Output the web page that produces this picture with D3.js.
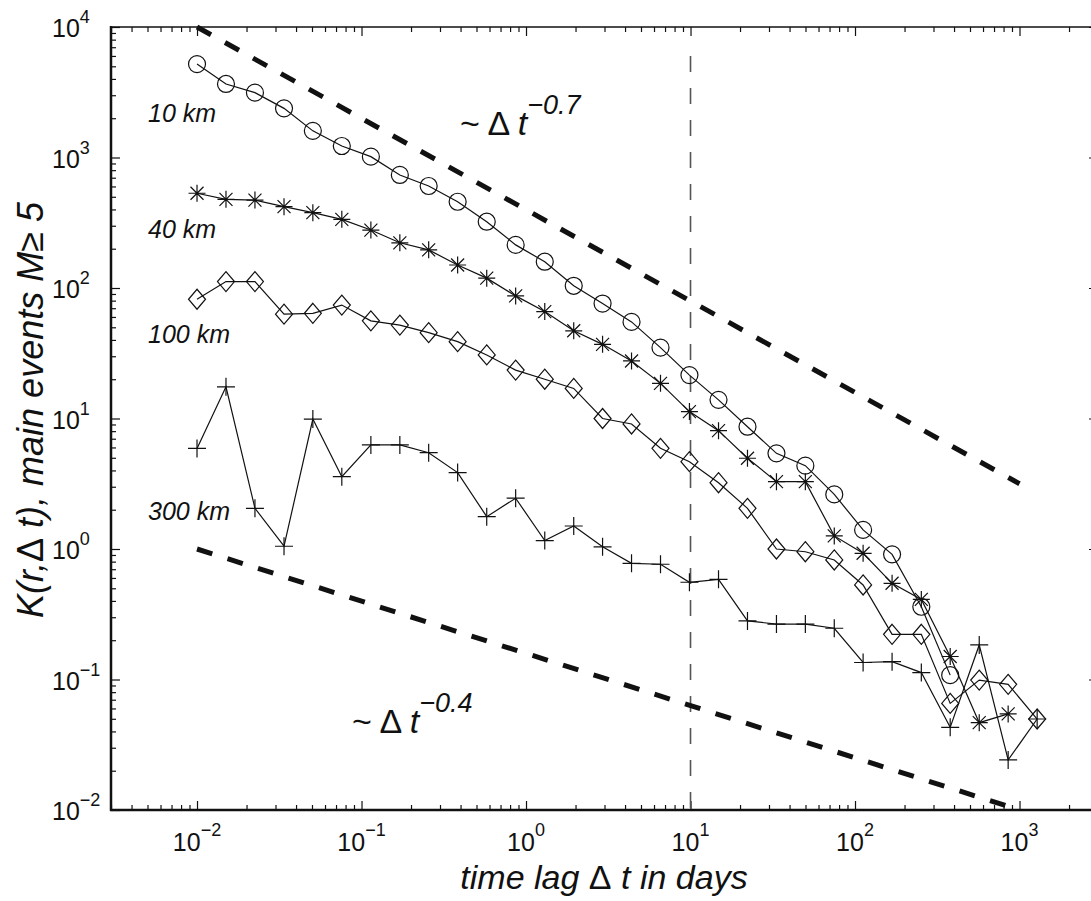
<!DOCTYPE html>
<html>
<head>
<meta charset="utf-8">
<script src="https://cdn.jsdelivr.net/npm/d3@7"></script>
<style>
  body { margin: 0; background: #fff; }
  svg { display: block; }
  text { font-family: "Liberation Sans", Arial, Helvetica, sans-serif; fill: #111; }
</style>
</head>
<body>
<svg id="chart"></svg>
<script>
// time lags (days), same grid for every curve
const lags = [0.01, 0.015, 0.0225, 0.0338, 0.0506, 0.0759, 0.114, 0.171, 0.256, 0.384,
              0.577, 0.865, 1.30, 1.95, 2.92, 4.38, 6.57, 9.85, 14.8, 22.2,
              33.3, 49.9, 74.8, 112, 168, 253, 379, 569, 853, 1280];

const k10km = [5200, 3660, 3140, 2380, 1600, 1225, 1015, 735, 605, 458,
               322, 214, 159, 104, 76, 55, 34.9, 21.5, 13.9, 8.65,
               5.41, 4.35, 2.62, 1.40, 0.91, 0.361, 0.108];
const k40km = [532, 478, 472, 420, 378, 336, 278, 222, 196, 150,
               119, 87, 66, 47, 37, 27.6, 18.6, 11.3, 8.07, 4.96,
               3.28, 3.28, 1.26, 0.927, 0.546, 0.411, 0.150, 0.0467, 0.0545];
const k100km = [82, 112, 112, 63, 64, 74, 56, 52, 45.5, 38.8,
                30.7, 23.5, 20, 17, 10, 9.08, 5.91, 4.67, 3.22, 2.05,
                1.0, 0.953, 0.824, 0.530, 0.222, 0.222, 0.0656, 0.099, 0.0918, 0.0498];
const k300km = [5.9, 17.5, 2.05, 1.05, 9.9, 3.58, 6.27, 6.27, 5.47, 3.85,
                1.77, 2.45, 1.16, 1.50, 1.04, 0.776, 0.764, 0.556, 0.586, 0.281,
                0.266, 0.266, 0.247, 0.135, 0.137, 0.113, 0.043, 0.184, 0.0242, 0.0498];

const seriesNames = ["10 km", "40 km", "100 km", "300 km"];
const seriesMarkers = ["circle", "star", "diamond", "plus"];
const seriesValues = [k10km, k40km, k100km, k300km];

// reference power laws: [start, end] in (lag, K)
const law07 = [[0.01, 1e4], [1000, Math.pow(10, 0.5)]];
const law04 = [[0.01, 1], [1000, 0.01]];
const vline = [[10, 6000], [10, 0.01]];

const xTickExps = [-2, -1, 0, 1, 2, 3];
const yTickExps = [-2, -1, 0, 1, 2, 3, 4];

const W = 1091, H = 901;
const svg = d3.select("#chart").attr("width", W).attr("height", H);

const x = d3.scaleLog().domain([0.003, 3000]).range([111, 1098]);
const y = d3.scaleLog().domain([0.01, 1e4]).range([810, 27]);

const xMinor = [], yMinor = [];
for (let e = -3; e <= 3; e++) for (let m = 2; m <= 9; m++) {
    const v = m * Math.pow(10, e);
    if (v >= 0.003 && v <= 3000) xMinor.push(v);
}
for (let e = -2; e < 4; e++) for (let m = 2; m <= 9; m++) yMinor.push(m * Math.pow(10, e));
const xMajor = xTickExps.map(e => Math.pow(10, e));
const yMajor = yTickExps.map(e => Math.pow(10, e));

function ax(gen, scale, vals, size, tx, ty) {
    const g = svg.append("g").attr("transform", `translate(${tx},${ty})`)
        .call(gen(scale).tickValues(vals).tickSizeInner(size).tickSizeOuter(0).tickFormat(""));
    g.select(".domain").remove();
    g.selectAll(".tick line").attr("stroke", "#111").attr("stroke-width", 1.2);
}
// ticks pointing inward on all four sides
ax(d3.axisBottom, x, xMajor, -9, 0, 810);
ax(d3.axisBottom, x, xMinor, -5, 0, 810);
ax(d3.axisTop, x, xMajor, -9, 0, 27);
ax(d3.axisTop, x, xMinor, -5, 0, 27);
ax(d3.axisLeft, y, yMajor, -9, 111, 0);
ax(d3.axisLeft, y, yMinor, -5, 111, 0);
ax(d3.axisRight, y, yMajor, -9, 1098, 0);
ax(d3.axisRight, y, yMinor, -5, 1098, 0);

// frame
svg.append("line").attr("x1", 111).attr("x2", 1098).attr("y1", 27).attr("y2", 27)
    .attr("stroke", "#111").attr("stroke-width", 1.5);
svg.append("line").attr("x1", 110).attr("x2", 1098).attr("y1", 810).attr("y2", 810)
    .attr("stroke", "#111").attr("stroke-width", 2.5);
svg.append("line").attr("x1", 111).attr("x2", 111).attr("y1", 26).attr("y2", 811)
    .attr("stroke", "#111").attr("stroke-width", 2.5);

// tick labels
svg.selectAll(".xlab").data(xTickExps).enter().append("text")
    .attr("class", "xlab")
    .attr("x", e => x(Math.pow(10, e)))
    .attr("y", 851)
    .attr("text-anchor", "middle")
    .style("font-size", "25px")
    .each(function (e) {
        const t = d3.select(this);
        t.append("tspan").text("10");
        t.append("tspan").attr("dy", -15).style("font-size", "18px")
            .text(String(e).replace("-", "\u2212"));
    });

svg.selectAll(".ylab").data(yTickExps).enter().append("text")
    .attr("class", "ylab")
    .attr("x", 52)
    .attr("y", e => y(Math.pow(10, e)) + 10)
    .style("font-size", "25px")
    .each(function (e) {
        const t = d3.select(this);
        t.append("tspan").text("10");
        t.append("tspan").attr("dy", -14).style("font-size", "18px")
            .text(String(e).replace("-", "\u2212"));
    });

// axis titles
const xt = svg.append("text").attr("x", 604).attr("y", 889).attr("text-anchor", "middle")
    .style("font-size", "34px").style("font-style", "italic");
xt.append("tspan").text("time lag ");
xt.append("tspan").style("font-style", "normal").text("\u0394");
xt.append("tspan").text(" t in days");

const yt = svg.append("text").attr("transform", "translate(43,410) rotate(-90)")
    .attr("text-anchor", "middle").style("font-size", "36px").style("font-style", "italic");
yt.append("tspan").text("K(r,");
yt.append("tspan").style("font-style", "normal").text("\u0394");
yt.append("tspan").text(" t), main events M");
yt.append("tspan").style("font-style", "normal").text("\u2265");
yt.append("tspan").text(" 5");

// reference lines
const line = d3.line().x(d => x(d[0])).y(d => y(d[1]));
svg.append("path").attr("d", line(vline)).attr("fill", "none")
    .attr("stroke", "#555").attr("stroke-width", 1.6).attr("stroke-dasharray", "16,16");
[law07, law04].forEach(l => {
    svg.append("path").attr("d", line(l)).attr("fill", "none")
        .attr("stroke", "#111").attr("stroke-width", 5).attr("stroke-dasharray", "16,16");
});

// data curves
const markerPath = {
    circle: "M-8.5,0a8.5,8.5 0 1,0 17,0a8.5,8.5 0 1,0 -17,0",
    star: "M-8.5,0H8.5M0,-8.5V8.5M-6.5,-6.5L6.5,6.5M-6.5,6.5L6.5,-6.5",
    diamond: "M0,-10L8.5,0L0,10L-8.5,0Z",
    plus: "M-9,0H9M0,-9V9"
};
seriesValues.forEach((vals, i) => {
    const pts = vals.map((v, j) => [lags[j], v]);
    svg.append("path").attr("d", line(pts)).attr("fill", "none")
        .attr("stroke", "#111").attr("stroke-width", 1.2);
    svg.selectAll(".m" + i).data(pts).enter().append("path")
        .attr("class", "m" + i)
        .attr("transform", d => `translate(${x(d[0])},${y(d[1])})`)
        .attr("d", markerPath[seriesMarkers[i]])
        .attr("fill", "none").attr("stroke", "#111").attr("stroke-width", 1.2);
});

// curve labels
const labelY = [122, 238, 343, 520];
seriesNames.forEach((n, i) => {
    svg.append("text").attr("x", 148).attr("y", labelY[i])
        .style("font-size", "25px").style("font-style", "italic").text(n);
});

// power-law annotations
function lawLabel(px, py, expo) {
    const t = svg.append("text").attr("x", px).attr("y", py).style("font-size", "34px");
    t.append("tspan").text("~ \u0394 ");
    t.append("tspan").style("font-style", "italic").text("t");
    t.append("tspan").attr("dy", -21).style("font-size", "27px").style("font-style", "italic")
        .text(expo);
}
lawLabel(460, 135, "\u22120.7");
lawLabel(352, 733, "\u22120.4");
</script>
</body>
</html>
